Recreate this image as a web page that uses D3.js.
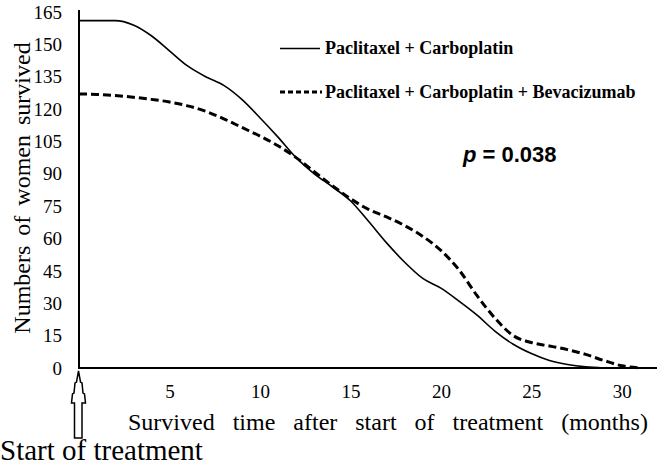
<!DOCTYPE html>
<html><head><meta charset="utf-8">
<script src="https://cdn.jsdelivr.net/npm/d3@7"></script>
</head>
<body style="margin:0">
<svg id="chart" width="660" height="465" style="display:block;background:#fff"></svg>
<script>
const months = [0,1,2,3,4,5,6,7,8,9,10,11,12,13,14,15,16,17,18,19,20,21,22,23,24,25,26,27,28,29,30,31];
const pcValues = [161,161,161,159,154,147,140,135,131,124.5,116,107,97.5,90,84,77.5,68,58,49,41.5,37,31,24.5,17,11,6.7,3.5,1.6,0.5,0,null,null];
const pcbValues = [127,126.8,126.3,125.5,124.5,123.3,121.5,119,115.5,111.5,107.5,103,97.5,91,84.5,78.5,73.5,70,66,61,54.5,45.5,33.5,23,15,11.8,10.2,8.5,6.3,3.5,1,0];
const yTicks = [0,15,30,45,60,75,90,105,120,135,150,165];
const xTicks = [5,10,15,20,25,30];
const seriesNames = ["Paclitaxel + Carboplatin","Paclitaxel + Carboplatin + Bevacizumab"];
const pText = "0.038";

const svg = d3.select("#chart");
const SERIF = "Liberation Serif";
const SANS = "Liberation Sans";
function font(sel, fam, size, weight){
  sel.attr("font-family",fam).attr("font-size",size)
     .style("font-family",fam,"important").style("font-size",size+"px","important");
  if(weight) sel.attr("font-weight",weight).style("font-weight",weight,"important");
  return sel;
}

const x = d3.scaleLinear().domain([0,32]).range([79,658]);
const y = d3.scaleLinear().domain([0,165]).range([368,12]);

// axes lines
svg.append("line").attr("x1",x(0)).attr("x2",x(0)).attr("y1",10).attr("y2",y(0)+1)
  .attr("stroke","#000").attr("stroke-width",2);
svg.append("line").attr("x1",x(0)-1).attr("x2",657).attr("y1",y(0)).attr("y2",y(0))
  .attr("stroke","#000").attr("stroke-width",2);

// y tick labels
const yAxis = d3.axisLeft(y).tickValues(yTicks).tickSize(0).tickPadding(17);
const gy = svg.append("g").attr("transform",`translate(${x(0)},0)`).call(yAxis);
gy.select(".domain").remove();
font(gy.selectAll("text"),SERIF,19).attr("fill","#000");

// x tick labels
const xAxis = d3.axisBottom(x).tickValues(xTicks).tickSize(0).tickPadding(17);
const gx = svg.append("g").attr("transform",`translate(0,${y(0)})`).call(xAxis);
gx.select(".domain").remove();
font(gx.selectAll("text"),SERIF,19).attr("fill","#000");

// axis titles
font(svg.append("text").attr("x",128).attr("y",430),SERIF,24)
  .style("word-spacing","12px")
  .text("Survived time after start of treatment (months)");
font(svg.append("text").attr("transform","translate(30,188) rotate(-90)")
  .attr("text-anchor","middle"),SERIF,24)
  .style("word-spacing","4px")
  .text("Numbers of women survived");

// lines
const line = d3.line().defined(d=>d[1]!==null).x(d=>x(d[0])).y(d=>y(d[1])).curve(d3.curveMonotoneX);
svg.append("path").datum(months.map((m,i)=>[m,pcValues[i]]))
  .attr("d",line).attr("fill","none").attr("stroke","#000").attr("stroke-width",1.6);
svg.append("path").datum(months.map((m,i)=>[m,pcbValues[i]]))
  .attr("d",line).attr("fill","none").attr("stroke","#000").attr("stroke-width",3)
  .attr("stroke-dasharray","8,4");

// legend
const leg = svg.append("g");
leg.append("line").attr("x1",280).attr("x2",320).attr("y1",48.5).attr("y2",48.5)
  .attr("stroke","#000").attr("stroke-width",1.6);
font(leg.append("text").attr("x",325).attr("y",54),SERIF,18,"bold").text(seriesNames[0]);
leg.append("line").attr("x1",280).attr("x2",322).attr("y1",92).attr("y2",92)
  .attr("stroke","#000").attr("stroke-width",3).attr("stroke-dasharray","5,3");
font(leg.append("text").attr("x",325).attr("y",98),SERIF,18,"bold").text(seriesNames[1]);

// p value
const pt = font(svg.append("text").attr("x",463).attr("y",162),SANS,22,"bold");
pt.append("tspan").attr("font-style","italic").style("font-style","italic").text("p");
pt.append("tspan").text(" = " + pText);

// arrow
const ax = x(0);
const arrowPts = [[0,-7],[2,4],[3.5,5],[4.5,15],[6,16],[7,25],[3.5,25],[3.5,60],[-4,60],[-4,25],[-7,25],[-6,16],[-4.5,15],[-3.5,5],[-2,4]];
svg.append("path")
  .attr("d","M"+arrowPts.map(p=>[ax+p[0]-0.5,378+p[1]].join(",")).join("L")+"Z")
  .attr("fill","#fff").attr("stroke","#000").attr("stroke-width",1.5);

font(svg.append("text").attr("x",0).attr("y",460),SERIF,29).text("Start of treatment");
</script>
</body></html>
